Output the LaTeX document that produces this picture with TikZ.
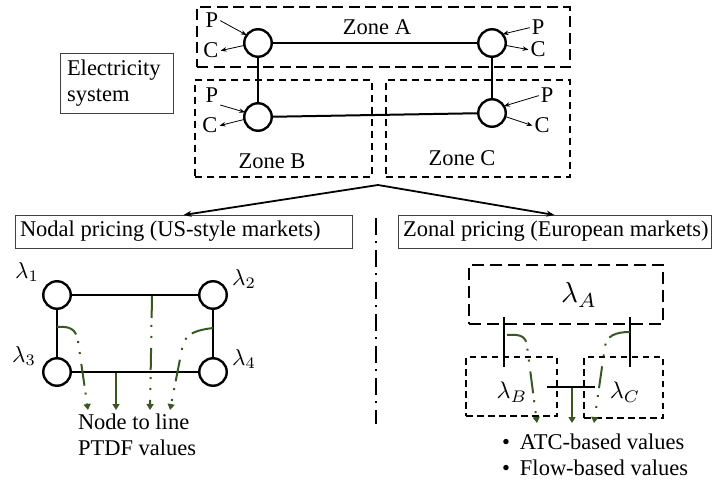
\documentclass[tikz,border=0pt]{standalone}
\usepackage{graphicx}
\usepackage{fontspec}
\setmainfont{Liberation Serif}
\usetikzlibrary{arrows.meta}
\definecolor{flowgreen}{HTML}{385723}
\definecolor{boxgray}{HTML}{404040}
\tikzset{
  every node/.style={inner sep=0pt, outer sep=0pt},
  txt/.style={font=\fontsize{22.5}{26}\selectfont},
  pc/.style={txt, anchor=base, inner sep=2pt},
  bus/.style={circle, draw, line width=2.4pt, minimum size=27.5pt},
  tie/.style={line width=2pt},
  zone/.style={draw, line width=2pt, dash pattern=on 7pt off 5pt},
  zonewide/.style={draw, line width=2pt, dash pattern=on 11pt off 5.5pt},
  lamboxA/.style={draw, line width=2pt, dash pattern=on 12pt off 6pt},
  lambox/.style={draw, line width=2pt, dash pattern=on 6.5pt off 4.5pt},
  titlebox/.style={draw=boxgray, line width=0.9pt, txt, inner xsep=5pt, minimum height=33pt},
  inj/.style={line width=0.8pt, -{Stealth[length=6pt, width=4.5pt]}},
  branch/.style={line width=1.8pt, -{Stealth[length=8pt, width=6pt]}},
  divider/.style={line width=2pt, dash pattern=on 17pt off 6pt on 2pt off 7pt},
  flow/.style={flowgreen, line width=2pt, dash pattern=on 22pt off 7pt on 2pt off 9pt on 2pt off 10pt, -{Triangle[length=6pt, width=7pt]}},
  flowsolid/.style={flowgreen, line width=2pt, -{Triangle[length=6pt, width=7pt]}}
}
% prices drawn from 10pt math, enlarged
\newcommand{\lamsmall}[1]{\scalebox{2.3}{$\lambda_{#1}$}}
\newcommand{\lammid}[1]{\scalebox{2.4}{$\lambda_{#1}$}}
\newcommand{\lambig}[1]{\scalebox{2.9}{$\lambda_{#1}$}}
\newcommand{\itemdot}{\makebox[18pt][l]{\textbullet}}
\begin{document}
\begin{tikzpicture}[x=1pt, y=-1pt]
\useasboundingbox (0,0) rectangle (714,481);

% ---------- electricity system with three zones ----------
\node[zonewide, minimum width=373pt, minimum height=60pt] (zoneA) at (383.5,37) {};
\node[zone, minimum width=177pt, minimum height=97pt] (zoneB) at (283.5,128.5) {};
\node[zone, minimum width=184pt, minimum height=97pt] (zoneC) at (478,128.5) {};
\node[txt, anchor=base] (zAlab) at (377,35) {Zone A};
\node[txt, anchor=base] (zBlab) at (272,168) {Zone B};
\node[txt, anchor=base] (zClab) at (462,166) {Zone C};

\node[bus] (a1) at (258,43) {};
\node[bus] (a2) at (492,43) {};
\node[bus] (b1) at (258,117) {};
\node[bus] (c1) at (492,113) {};
\draw[tie] (a1) -- (a2);
\draw[tie] (a1) -- (b1);
\draw[tie] (a2) -- (c1);
\draw[tie] (b1) -- (c1);

% production / consumption at each bus
\node[pc] (pA1) at (212,28) {P};
\node[pc] (cA1) at (211,58) {C};
\draw[inj] (pA1.east) -- (a1.145);
\draw[inj] (a1.190) -- (cA1.east);

\node[pc] (pA2) at (538,35) {P};
\node[pc] (cA2) at (538,57) {C};
\draw[inj] (pA2.west) -- (a2.40);
\draw[inj] (a2.-10) -- (cA2.west);

\node[pc] (pB1) at (212,103) {P};
\node[pc] (cB1) at (210,133) {C};
\draw[inj] (pB1.south east) -- (b1.160);
\draw[inj] (b1.190) -- (cB1.east);

\node[pc] (pC1) at (547,103) {P};
\node[pc] (cC1) at (542,133) {C};
\draw[inj] (pC1.west) -- (c1.30);
\draw[inj] (c1.-15) -- (cC1.west);

\node[draw=boxgray, line width=0.9pt, txt, align=left, text width=99pt, inner xsep=7pt, minimum height=60pt] (elec) at (116.5,83) {Electricity\\system};

% ---------- two pricing approaches ----------
\node[titlebox] (nodal) at (183.5,231.5) {\makebox[327pt][l]{Nodal pricing (US-style markets)}};
\node[titlebox] (zonal) at (554.5,231.5) {\makebox[303pt][l]{Zonal pricing (European markets)}};
\coordinate (split) at (378,185);
\draw[branch] (split) -- (nodal.north);
\draw[branch] (split) -- (zonal.north);

\coordinate (divtop) at (376,218);
\coordinate (divbot) at (376,424);
\draw[divider] (divtop) -- (divbot);

% ---------- nodal network ----------
\node[bus] (n1) at (57,295) {};
\node[bus] (n2) at (213,295) {};
\node[bus] (n3) at (57,372) {};
\node[bus] (n4) at (213,372) {};
\draw[tie] (n1) -- (n2);
\draw[tie] (n1) -- (n3);
\draw[tie] (n2) -- (n4);
\draw[tie] (n3) -- (n4);
\node (l1) at (27,272) {\lamsmall{1}};
\node (l2) at (244,279) {\lamsmall{2}};
\node (l3) at (24,356) {\lamsmall{3}};
\node (l4) at (244,359) {\lamsmall{4}};

\draw[flow] (57,327) .. controls (70,326) and (76,329) .. (78,341) -- (88,410);
\draw[flowsolid] (116,373) -- (116,410);
\draw[flow] (152,296) -- (150,410);
\draw[flow] (213,328) .. controls (197,330) and (187,333) .. (183,344) -- (170,410);

\node[txt, anchor=north west, align=left] (ptdf) at (78,414) {Node to line\\PTDF values};

% ---------- zonal network ----------
\node[lamboxA, minimum width=194pt, minimum height=59pt] (zA) at (566,294.5) {};
\node[lambox, minimum width=91pt, minimum height=59pt] (zB) at (511.5,386.5) {};
\node[lambox, minimum width=79pt, minimum height=61pt] (zC) at (623.5,387.5) {};
\node (lA) at (579,295) {\lambig{A}};
\node (lB) at (512,392) {\lammid{B}};
\node (lC) at (625,392) {\lammid{C}};

\draw[tie] (504,317) -- (504,367);
\draw[tie] (630,317) -- (630,367);
\draw[tie] (547,387) -- (595,387);

\draw[flow] (507,335) .. controls (520,334) and (526,336) .. (527,346) -- (537,423);
\draw[flowsolid] (572,388) -- (572,423);
\draw[flow] (630,332) .. controls (615,332) and (607,336) .. (605,346) -- (594,423);

\node[txt, anchor=north west, align=left] (bul) at (502,434)
  {\itemdot ATC-based values\\ \itemdot Flow-based values};
\end{tikzpicture}
\end{document}
